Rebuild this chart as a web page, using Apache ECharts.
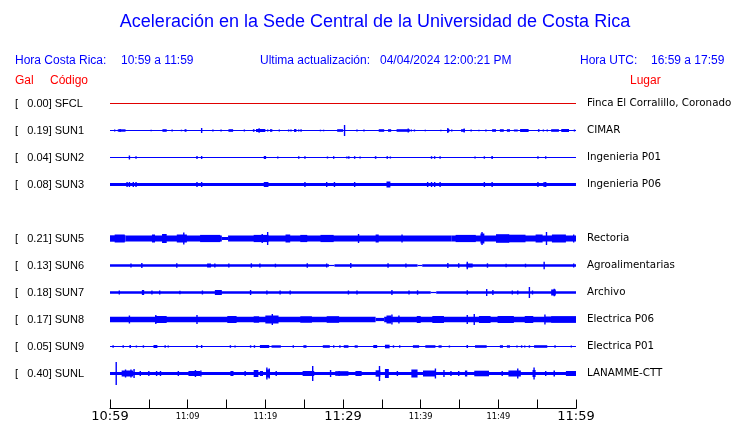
<!DOCTYPE html>
<html><head><meta charset="utf-8">
<script src="https://cdn.jsdelivr.net/npm/echarts@6/dist/echarts.min.js"></script>
<style>html,body{margin:0;padding:0;background:#fff}#c{width:740px;height:423px}</style>
</head><body><div id="c"></div>
<script>
// ---------- texts ----------
const titleText = 'Aceleración en la Sede Central de la Universidad de Costa Rica';
const horaCRLabel = 'Hora Costa Rica:';
const horaCR = '10:59 a 11:59';
const updLabel = 'Ultima actualización:';
const updValue = '04/04/2024 12:00:21 PM';
const horaUTCLabel = 'Hora UTC:';
const horaUTC = '16:59 a 17:59';

// ---------- stations ----------
const codes  = ['SFCL','SUN1','SUN2','SUN3','SUN5','SUN6','SUN7','SUN8','SUN9','SUNL'];
const gal    = [0.00, 0.19, 0.04, 0.08, 0.21, 0.13, 0.18, 0.17, 0.05, 0.40];
const places = ['Finca El Corralillo, Coronado','CIMAR','Ingenieria P01','Ingenieria P06','Rectoria',
                'Agroalimentarias','Archivo','Electrica P06','Electrica P01','LANAMME-CTT'];
const rowSlots = [0,1,2,3,5,6,7,8,9,10];

// ---------- time axis (minutes after 10:59) ----------
const timeTicks = ['10:59','11:09','11:19','11:29','11:39','11:49','11:59'];
const majorTicks = ['10:59','11:29','11:59'];

// ---------- traces: [startMin, endMin, halfAmplitude] ----------
const band_SFCL = [[0,60,0.5]];
const burst_SFCL = [];

const band_SUN1 = [[0,60,0.5]];
const burst_SUN1 = [[0.6,0.6,1],[1.0,2.0,1.2],[1.3,1.3,1.6],[5.3,5.3,0.8],[6.75,7.3,1.3],[8.0,8.0,1],[9.2,9.2,0.8],
 [9.6,9.85,1.3],[11.8,11.8,2.5],[13.25,13.25,1],[14.3,14.3,1],[15.25,15.85,1.3],[17.3,17.3,1],[18.4,18.6,1.3],
 [18.8,20.0,1.5],[19.2,19.2,2.3],[20.3,20.3,1],[20.6,20.9,1.3],[21.8,21.8,1],[23.0,23.0,1],[23.3,23.3,1],
 [23.7,24.0,1.5],[24.3,24.3,1],[24.6,24.6,1.3],[27.1,27.1,0.8],[27.5,27.5,0.8],[29.25,30.0,1.3],[30.2,30.2,5.5],
 [31.8,31.8,1],[32.7,32.7,1],[34.6,35.3,1.3],[35.8,36.2,1.3],[36.9,38.6,1.3],[38.4,38.4,2],[38.8,38.8,1],
 [39.2,39.2,1],[40.6,40.6,0.8],[42.6,42.6,0.8],[43.4,43.7,1.5],[43.5,43.5,2.5],[44.0,44.0,1],[45.2,45.7,1.3],
 [45.6,45.6,2],[46.5,46.5,1],[47.5,47.5,0.8],[48.4,48.4,1],[49.2,49.7,1.3],[50.2,50.7,1.3],[51.1,51.5,1.3],
 [52.0,52.5,1],[52.8,53.9,1.5],[55.1,55.3,1.3],[55.8,55.8,1],[56.3,56.3,1],[56.8,57.8,1.3],[58.1,59.1,1.5],[59.8,59.8,1]];

const band_SUN2 = [[0,60,0.5]];
const burst_SUN2 = [[2.5,2.5,2],[3.35,3.35,1.3],[11.2,11.3,1.5],[11.8,11.8,1.5],[19.8,20.1,1.5],[21.6,21.6,1],
 [24.3,24.3,1.2],[25.1,25.1,1.3],[28.0,28.0,1],[28.8,28.8,1.3],[30.5,30.5,1],[30.75,30.75,1.3],[31.5,31.5,1.3],
 [32.2,32.2,1],[34.1,34.3,1.3],[35.6,35.8,1.3],[36.1,36.1,1],[41.4,41.4,1.3],[41.8,41.8,1.3],[42.5,42.5,1.3],
 [47.0,47.0,1],[48.2,48.2,1.2],[49.1,49.3,1.5],[55.1,55.1,1.3],[56.1,56.1,1.2]];

const band_SUN3 = [[0,60,1.5]];
const burst_SUN3 = [[2.2,2.2,2.5],[2.5,2.5,2.5],[3.0,3.0,2.5],[3.35,3.35,2.5],[11.2,11.2,2.5],[11.8,11.8,2.5],
 [19.8,20.4,2.5],[25.1,25.1,2.5],[27.9,27.9,2.5],[28.9,28.9,2.5],[31.5,31.5,2.5],[35.6,36.1,3],[40.9,40.9,2.5],
 [41.4,41.4,2.5],[41.8,41.8,2.5],[42.5,42.5,2.5],[48.2,48.2,2.5],[49.2,49.2,2.5],[55.1,55.1,2.5],[55.9,55.9,2.5],
 [56.1,56.1,2.5]];

const band_SUN5 = [[0,2,3.2],[2,14.4,3.0],[14.4,15.2,1.5],[15.2,44,2.9],[44,60,3.1]];
const burst_SUN5 = [[0.6,1.9,4],[5.4,5.8,4],[6.7,7.3,4.5],[8.6,9.9,4],[9.5,9.5,6],[11.6,14.2,3.6],[18.5,20.4,3.6],
 [19.6,19.6,4.5],[20.3,20.3,6.5],[22.6,23.2,4],[24.5,25.4,3.6],[27.1,28.8,3.6],[32.0,32.0,4.5],[34.2,34.6,4],
 [37.6,37.6,4],[44.5,47.1,3.6],[47.7,48.2,5],[47.9,47.9,6.5],[49.7,51.4,4.3],[51.3,53.5,3.8],[54.8,55.7,4],
 [56.2,56.2,6.5],[56.9,58.7,4],[59.7,59.7,4]];

const band_SUN6 = [[0,28.2,1.3],[28.2,28.9,0.6],[28.9,39.6,1.3],[39.6,40.2,0.6],[40.2,60,1.3]];
const burst_SUN6 = [[2.7,2.7,2],[4.1,4.1,2.5],[8.6,8.6,2.2],[12.5,13.0,2],[13.5,13.5,2],[15.3,15.3,2],[18.2,18.2,2.2],
 [19.3,19.3,2],[21.3,21.3,1.8],[25.4,25.4,2.2],[27.9,27.9,2],[31.0,31.0,2.5],[35.8,35.8,2.2],[38.1,38.1,2],
 [43.5,43.5,2.5],[44.9,44.9,2.2],[45.9,46.7,2],[46.0,46.0,3.8],[48.6,48.6,2.2],[51.0,51.0,1.8],[53.5,53.5,1.8],
 [55.9,55.9,3.7],[59.7,59.7,2]];

const band_SUN7 = [[0,41.3,1.3],[41.3,42.0,0.6],[42.0,60,1.3]];
const burst_SUN7 = [[1.2,1.2,2],[4.1,4.4,2.5],[5.4,5.4,2],[6.4,6.4,2],[9.0,9.0,1.8],[11.9,11.9,2],[13.5,14.4,2.5],
 [18.1,18.1,2.5],[20.2,20.2,2],[21.9,21.9,2],[23.2,23.2,2],[30.7,30.7,2],[31.8,31.8,2],[36.3,36.3,2.5],
 [38.5,38.5,2],[39.6,39.6,2.2],[46.0,46.0,2.2],[48.5,48.5,3.5],[49.3,49.3,2.5],[51.8,51.8,2],[52.5,52.5,2],
 [54.0,54.0,5.5],[54.4,54.4,2],[56.8,57.4,3],[57.2,57.2,3.8]];

const band_SUN8 = [[0,34.2,2.7],[34.2,35.3,1.6],[35.3,56,2.8],[56,60,3.0]];
const burst_SUN8 = [[2.5,2.5,4],[5.8,7.3,3.5],[5.9,5.9,4.5],[11.2,11.2,4.5],[15.1,16.3,3.5],[18.5,19.2,3.2],
 [20.0,21.7,4],[20.9,20.9,5.5],[24.5,26.0,3.2],[27.9,29.5,3.3],[35.6,36.2,4],[36.3,36.3,5],[37.2,37.2,4],
 [39.5,40.0,3.5],[41.5,43.0,3.5],[46.0,46.0,4.5],[46.9,46.9,5.5],[47.5,49.0,3.5],[49.9,52.0,3.5],[53.4,54.5,3.5],
 [56.0,56.0,5],[56.8,60.0,3.3]];

const band_SUN9 = [[0,60,0.5]];
const burst_SUN9 = [[0.4,0.4,1.2],[1.7,1.7,1.3],[2.5,2.7,1.5],[3.4,3.4,1],[4.3,4.3,1.2],[5.6,6.1,1.5],[7.1,7.1,1.3],
 [7.5,7.5,1],[11.2,11.2,1.5],[11.8,11.9,1.5],[15.5,15.5,1.3],[16.1,16.1,1],[18.1,18.1,1.2],[18.6,18.6,1.3],
 [19.3,20.5,1.5],[20.8,22.0,1.2],[23.6,23.6,1.3],[24.9,25.3,1.3],[27.4,28.3,1.3],[28.8,28.8,1.2],[29.6,29.6,1.2],
 [30.1,30.7,1.3],[31.5,31.9,1.2],[33.9,34.4,1.5],[35.4,36.0,1.8],[36.5,36.5,1.2],[37.3,37.3,1.2],[39.0,39.8,1.3],
 [40.6,41.9,1.3],[42.3,42.7,1.2],[43.7,43.7,1],[45.9,46.1,1.5],[47.0,48.5,1.3],[50.2,50.6,1.3],[51.1,51.5,1.2],
 [52.4,52.4,1],[53.0,53.0,1.2],[53.4,53.4,1],[54.0,54.0,1.2],[54.6,56.3,1.3],[57.3,57.3,1.3],[59.4,59.4,1]];

const band_SUNL = [[0,60,1.5]];
const burst_SUNL = [[0.8,0.8,11.5],[1.5,3.0,3],[2.0,2.0,4],[2.7,2.7,4],[3.1,3.1,4.5],[3.9,3.9,2.5],[5.0,5.0,2.5],
 [6.0,6.0,2.5],[6.5,6.5,2.5],[8.8,8.8,2.5],[10.1,11.6,2.5],[11.0,11.0,3.5],[11.7,11.7,3],[15.5,15.9,2.5],
 [17.4,17.4,2.5],[18.5,19.1,3.5],[19.3,19.7,2.5],[20.1,20.6,4],[20.2,20.2,6],[20.5,20.5,5],[21.4,21.4,2.5],
 [24.8,26.3,2.5],[26.1,26.1,7.5],[28.4,28.4,3.5],[29.0,30.7,2.3],[29.5,29.5,2.5],[31.6,32.4,2.5],[34.2,34.8,3.2],
 [34.7,34.7,7.5],[35.4,35.9,4.5],[37.0,37.0,2.5],[38.8,39.6,4],[40.3,41.9,3],[41.9,41.9,5],[43.0,43.0,3.5],
 [43.9,43.9,2.5],[44.9,44.9,2.5],[45.7,46.0,3],[46.9,48.8,2.8],[50.5,50.5,2.5],[51.3,52.9,3],[52.5,52.5,5],
 [54.4,54.8,3.5],[54.6,54.6,6],[56.1,56.1,2.5],[57.1,57.3,3],[58.7,60.0,2.5]];

const bands  = {SFCL:band_SFCL,SUN1:band_SUN1,SUN2:band_SUN2,SUN3:band_SUN3,SUN5:band_SUN5,
                SUN6:band_SUN6,SUN7:band_SUN7,SUN8:band_SUN8,SUN9:band_SUN9,SUNL:band_SUNL};
const bursts = {SFCL:burst_SFCL,SUN1:burst_SUN1,SUN2:burst_SUN2,SUN3:burst_SUN3,SUN5:burst_SUN5,
                SUN6:burst_SUN6,SUN7:burst_SUN7,SUN8:burst_SUN8,SUN9:burst_SUN9,SUNL:burst_SUNL};

// ---------- layout ----------
const ROW0 = 103, ROWSTEP = 27, PLOT_L = 110, PLOT_R = 164;
const BLUE = '#0000ff', RED = '#ff0000';

function renderItem(params, api) {
  const a = api.value(2);
  const p0 = api.coord([api.value(0), a]);
  const p1 = api.coord([api.value(1), -a]);
  let w = p1[0] - p0[0];
  let x = p0[0];
  if (w < 1.4) { x = x - 0.7; w = 1.4; }
  return { type: 'rect', shape: { x: x, y: p0[1], width: w, height: p1[1] - p0[1] },
           style: { fill: api.visual('color') } };
}

const grids = [], xAxes = [], yAxes = [], series = [], graphics = [];
codes.forEach((c, i) => {
  const cy = ROW0 + ROWSTEP * rowSlots[i];
  grids.push({ left: PLOT_L, right: PLOT_R, top: cy - 15, height: 30 });
  xAxes.push({ gridIndex: i, type: 'value', min: 0, max: 60, show: false });
  yAxes.push({ gridIndex: i, type: 'value', min: -14.5, max: 15.5, show: false });
  series.push({ type: 'custom', xAxisIndex: i, yAxisIndex: i, silent: true, clip: false,
    renderItem: renderItem, encode: { x: [0, 1], y: 2 },
    itemStyle: { color: c === 'SFCL' ? '#e00000' : BLUE },
    data: bands[c].concat(bursts[c]) });
  graphics.push({ type: 'text', x: 15, y: cy + 0.5, style: { text: '[   ' + gal[i].toFixed(2) + '] ' + c,
    font: '11px "Liberation Sans"', fill: '#000', verticalAlign: 'middle' } });
  graphics.push({ type: 'text', x: 587, y: cy + 0.5, style: { text: places[i],
    font: '10.3px "DejaVu Sans"', fill: '#000', verticalAlign: 'middle' } });
});

// bottom time axis
const bi = codes.length;
grids.push({ left: PLOT_L, right: PLOT_R, top: 380, height: 29 });
xAxes.push({ gridIndex: bi, type: 'value', min: 0, max: 60, interval: 5, position: 'bottom',
  axisLine: { show: true, lineStyle: { color: '#000', width: 1 } },
  axisTick: { show: true, inside: true, length: 9, lineStyle: { color: '#000', width: 1 } },
  splitLine: { show: false },
  axisLabel: { show: true, margin: 8, verticalAlign: 'middle',
    formatter: function (v) {
      if (v % 10 !== 0) return '';
      const lab = timeTicks[Math.round(v / 10)];
      return majorTicks.indexOf(lab) >= 0 ? '{big|' + lab + '}' : '{small|' + lab + '}';
    },
    rich: { big: { fontFamily: 'DejaVu Sans', fontSize: 13, color: '#000' },
            small: { fontFamily: 'DejaVu Sans', fontSize: 8.3, color: '#000' } } } });
yAxes.push({ gridIndex: bi, type: 'value', min: 0, max: 1, show: false });

// header texts
const hdrFont = '12px "Liberation Sans"';
graphics.push(
  { type: 'text', x: 375, y: 22, style: { text: titleText, font: '18px "Liberation Sans"', fill: BLUE, align: 'center', verticalAlign: 'middle' } },
  { type: 'text', x: 15, y: 61, style: { text: horaCRLabel, font: hdrFont, fill: BLUE, verticalAlign: 'middle' } },
  { type: 'text', x: 121, y: 61, style: { text: horaCR, font: hdrFont, fill: BLUE, verticalAlign: 'middle' } },
  { type: 'text', x: 260, y: 61, style: { text: updLabel, font: hdrFont, fill: BLUE, verticalAlign: 'middle' } },
  { type: 'text', x: 380, y: 61, style: { text: updValue, font: hdrFont, fill: BLUE, verticalAlign: 'middle' } },
  { type: 'text', x: 580, y: 61, style: { text: horaUTCLabel, font: hdrFont, fill: BLUE, verticalAlign: 'middle' } },
  { type: 'text', x: 651, y: 61, style: { text: horaUTC, font: hdrFont, fill: BLUE, verticalAlign: 'middle' } },
  { type: 'text', x: 15, y: 81, style: { text: 'Gal', font: hdrFont, fill: RED, verticalAlign: 'middle' } },
  { type: 'text', x: 50, y: 81, style: { text: 'Código', font: hdrFont, fill: RED, verticalAlign: 'middle' } },
  { type: 'text', x: 630, y: 81, style: { text: 'Lugar', font: hdrFont, fill: RED, verticalAlign: 'middle' } }
);

const chart = echarts.init(document.getElementById('c'), null, { renderer: 'canvas' });
chart.setOption({
  animation: false,
  backgroundColor: '#fff',
  grid: grids, xAxis: xAxes, yAxis: yAxes, series: series,
  graphic: graphics
});
</script></body></html>
